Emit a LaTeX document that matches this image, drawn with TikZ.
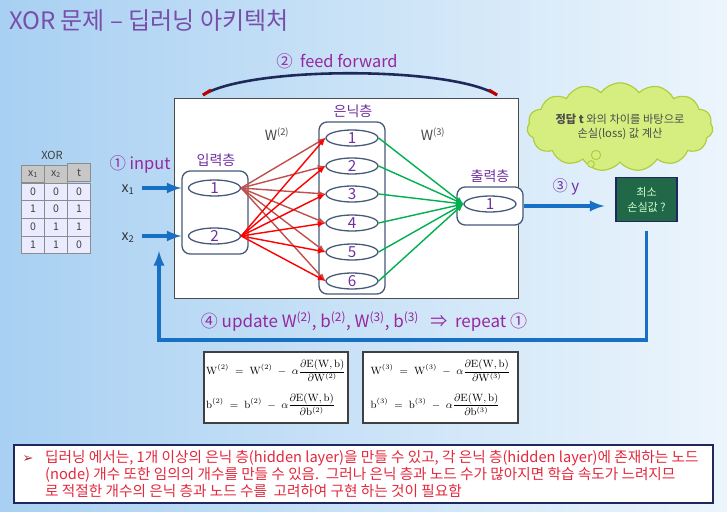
\documentclass[tikz,border=0pt]{standalone}
\usepackage{amsmath}
\usepackage[no-math]{fontspec}
\setmainfont{Noto Sans CJK KR}
\newfontfamily\symfont{DejaVu Sans}
\usetikzlibrary{shapes.geometric,shapes.symbols,matrix}

\definecolor{bgleft}{RGB}{168,208,242}
\definecolor{bgright}{RGB}{236,245,252}
\definecolor{titlepurple}{RGB}{120,78,170}
\definecolor{steppurple}{RGB}{150,40,160}
\definecolor{nodepurple}{RGB}{112,48,160}
\definecolor{slate}{RGB}{70,90,120}
\definecolor{brownred}{RGB}{192,80,77}
\definecolor{arrowgreen}{RGB}{0,176,80}
\definecolor{flowblue}{RGB}{23,112,196}
\definecolor{navy}{RGB}{30,40,90}
\definecolor{lossgreen}{RGB}{33,104,72}
\definecolor{cloudfill}{RGB}{214,238,128}
\definecolor{cloudline}{RGB}{175,205,60}
\definecolor{notered}{RGB}{228,40,60}

\tikzset{
  neuron/.style={ellipse, draw=slate, line width=1.1pt, fill=white,
    minimum width=1.56cm, minimum height=0.48cm, inner sep=0pt,
    text=nodepurple, font=\fontsize{13}{13}\selectfont},
  layer/.style={draw=slate, line width=1.1pt, rounded corners=7pt, fill=white},
  layername/.style={text=nodepurple, font=\fontsize{12}{12}\selectfont},
  wone/.style={->, >=latex, draw=brownred, line width=1.2pt},
  wtwo/.style={->, >=latex, draw=red, line width=1.2pt},
  wout/.style={->, >=latex, draw=arrowgreen, line width=1.2pt},
  flow/.style={->, >=latex, draw=flowblue, line width=3.2pt},
  steplabel/.style={text=steppurple, font=\fontsize{14}{14}\selectfont},
  formula/.style={draw=black!75, line width=1.4pt, fill=white,
    minimum height=2.13cm, align=left, inner sep=2pt,
    font=\fontsize{9}{11}\selectfont},
  cell/.style={draw=black!45, fill=white!92!blue, minimum width=0.69cm,
    minimum height=0.53cm, inner sep=0pt, text=black!75,
    font=\fontsize{9}{9}\selectfont}
}

\begin{document}
\begin{tikzpicture}[x=0.03cm, y=-0.03cm]
  % background
  \shade[left color=bgleft, right color=bgright] (0,0) rectangle (727,512);
  \useasboundingbox (0,0) rectangle (727,512);

  \node[anchor=west, text=titlepurple, font=\fontsize{20.5}{21}\selectfont] (title) at (5,21)
    {XOR 문제 – 딥러닝 아키텍처};

  % feed forward arc
  \coordinate (ffstart) at (203,95);
  \coordinate (ffend) at (497,95);
  \draw[navy, line width=2.2pt] (ffstart) .. controls (250,66) and (450,66) .. (ffend);
  \draw[red!75!black, line width=2.6pt] (ffstart) -- (211,90);
  \draw[red!75!black, line width=2.6pt] (ffend) -- (489,90);
  \node[steplabel] (ff) at (337,61) {②\ \ feed forward};

  % network box
  \node[draw=black!70, line width=0.8pt, fill=white, minimum width=10.32cm,
    minimum height=6cm] (net) at (346,198) {};

  \node[layer, minimum width=1.98cm, minimum height=2.49cm] (inbox) at (215,212.5) {};
  \node[layer, minimum width=1.98cm, minimum height=5.16cm] (hidbox) at (352,208) {};
  \node[layer, minimum width=1.98cm, minimum height=1.14cm] (outbox) at (490,206) {};

  \node[layername] (inname) at (216,160) {입력층};
  \node[layername] (hidname) at (353,111) {은닉층};
  \node[layername] (outname) at (490,176) {출력층};
  \node[text=black!70, font=\fontsize{12}{12}\selectfont] (wtwolbl) at (277,134) {W\textsuperscript{(2)}};
  \node[text=black!70, font=\fontsize{12}{12}\selectfont] (wthreelbl) at (433,134) {W\textsuperscript{(3)}};

  \node[neuron] (i1) at (214.5,188) {1};
  \node[neuron] (i2) at (214.5,236) {2};
  \foreach \s/\y in {1/138,2/166,3/194,4/223,5/252,6/281}
  {
    \node[neuron] (h\s) at (352,\y) {\s};
  }
  \node[neuron] (o1) at (490,204) {1};

  % weights
  \foreach \s in {1,...,6}
    \draw[wone] (i1.east) -- (h\s.west);
  \foreach \s in {1,...,6}
    \draw[wtwo] (i2.east) -- (h\s.west);
  \foreach \s in {1,...,6}
    \draw[wout] (h\s.east) -- (o1.west);

  % inputs
  \node[steplabel] (inlbl) at (140,164) {①\ input};
  \node[text=black!80, font=\fontsize{12}{12}\selectfont] (x1) at (128,190) {x\textsubscript{1}};
  \node[text=black!80, font=\fontsize{12}{12}\selectfont] (x2) at (128,238) {x\textsubscript{2}};
  \draw[flow] (142,188) -- (i1 -| inbox.west);
  \draw[flow] (142,236) -- (i2 -| inbox.west);

  % XOR table
  \node[text=black!75, font=\fontsize{9.5}{9.5}\selectfont] (xorlbl) at (52,155) {XOR};
  \matrix[matrix of nodes, nodes={cell}, column sep=-0.4pt, row sep=-0.4pt,
    row 1/.style={nodes={fill=black!22}}] (xor) at (56,208.5)
  {
    x\textsubscript{1} & x\textsubscript{2} & t \\
    0 & 0 & 0 \\
    1 & 0 & 1 \\
    0 & 1 & 1 \\
    1 & 1 & 0 \\
  };

  % loss
  \node[draw=navy, line width=1pt, fill=lossgreen, minimum width=1.83cm,
    minimum height=1.32cm, align=center, text=white!80!green,
    font=\fontsize{9.5}{12.5}\selectfont] (loss) at (646.5,199.5) {최소\\손실값 ?};
  \draw[flow, shorten >=0.33cm] (outbox.east) -- (outbox.east -| loss.west);
  \node[steplabel, text=nodepurple, font=\fontsize{13}{13}\selectfont] (ylbl) at (566,187) {③ y};

  \node[cloud, cloud puffs=15, cloud puff arc=110, aspect=2.6, draw=cloudline,
    line width=1pt, fill=cloudfill, minimum width=4.7cm, minimum height=1.8cm,
    inner sep=0pt, align=center, text=black!70, font=\fontsize{9.6}{12}\selectfont]
    (hint) at (620,127) {\textbf{정답 t} 와의 차이를 바탕으로\\손실(loss)\ 값 계산};
  \filldraw[draw=cloudline, fill=cloudfill, line width=0.8pt] (596,155) circle (0.14cm);
  \filldraw[draw=cloudline, fill=cloudfill, line width=0.8pt] (591,164) circle (0.1cm);

  % update loop
  \coordinate (fbbase) at (159,340);
  \coordinate (fbtip) at (159,251);
  \draw[flow, line cap=rect] ([yshift=-0.33cm]loss.south) |- (fbbase) -- (fbtip);
  \node[steplabel, font=\fontsize{14.5}{15}\selectfont] (upd) at (364,322)
    {④ update W\textsuperscript{(2)}, b\textsuperscript{(2)}, W\textsuperscript{(3)}, b\textsuperscript{(3)} \ \ ⇒ \ repeat ①};

  % formulas
  \node[formula, minimum width=4.26cm] (fw2) at (276,387.5)
    {$\mathrm{W}^{(2)} \;=\; \mathrm{W}^{(2)} \;-\; \alpha\dfrac{\partial\mathrm{E(W,b)}}{\partial\mathrm{W}^{(2)}}$\\[9pt]
     $\mathrm{b}^{(2)} \;=\; \mathrm{b}^{(2)} \;-\; \alpha\dfrac{\partial\mathrm{E(W,b)}}{\partial\mathrm{b}^{(2)}}$};
  \node[formula, minimum width=4.65cm] (fw3) at (440.5,387.5)
    {$\mathrm{W}^{(3)} \;=\; \mathrm{W}^{(3)} \;-\; \alpha\dfrac{\partial\mathrm{E(W,b)}}{\partial\mathrm{W}^{(3)}}$\\[9pt]
     $\mathrm{b}^{(3)} \;=\; \mathrm{b}^{(3)} \;-\; \alpha\dfrac{\partial\mathrm{E(W,b)}}{\partial\mathrm{b}^{(3)}}$};

  % note
  \node[draw=navy, line width=1.1pt, fill=white, minimum width=20.97cm,
    minimum height=1.74cm] (note) at (363.5,474) {};
  \node[text=notered!80!black, font=\symfont\fontsize{11}{11}\selectfont] (bullet) at (28,459) {➢};
  \node[anchor=north west, align=left, text=notered, inner sep=0pt,
    font=\fontsize{12.5}{14.5}\selectfont] (notetext) at (45,450)
    {딥러닝 에서는, 1개 이상의 은닉 층(hidden layer)을 만들 수 있고, 각 은닉 층(hidden layer)에 존재하는 노드\\
     (node) 개수 또한 임의의 개수를 만들 수 있음.\ \ 그러나 은닉 층과 노드 수가 많아지면 학습 속도가 느려지므\\
     로 적절한 개수의 은닉 층과 노드 수를\ \ 고려하여 구현 하는 것이 필요함};
\end{tikzpicture}
\end{document}
